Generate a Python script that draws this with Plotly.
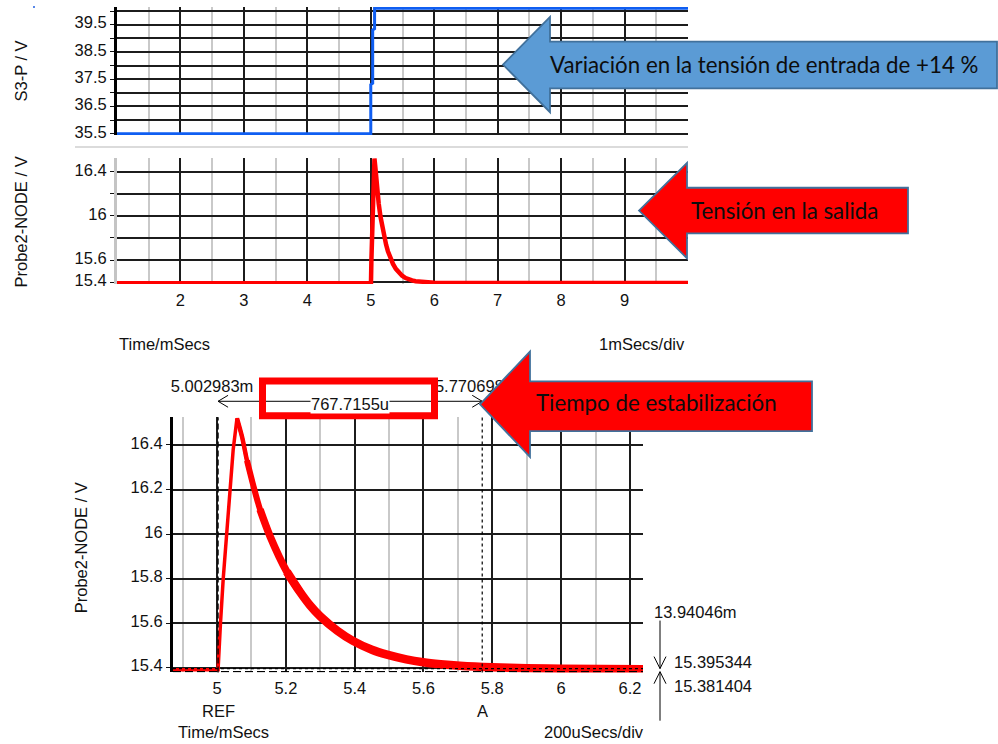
import plotly.graph_objects as go

W, H = 998, 744

# ---- data (time in ms, voltage in V) ----
# Input voltage S3-P: step at 5 ms
t_in = [1.0, 5.0, 5.0, 5.03, 5.03, 5.06, 5.06, 10.0]
v_in = [35.5, 35.5, 37.3, 37.35, 39.3, 39.35, 40.1, 40.1]

# Output voltage Probe2-NODE
t_out = [1.0, 4.995, 5.003, 5.010, 5.018, 5.032, 5.047, 5.058, 5.073, 5.087,
         5.105, 5.125, 5.154, 5.203, 5.241, 5.270, 5.300, 5.350, 5.395, 5.450,
         5.494, 5.550, 5.599, 5.650, 5.706, 5.800, 5.900, 6.000, 6.238, 10.0]
v_out = [15.39, 15.39, 15.39, 15.60, 15.80, 16.08, 16.38, 16.52, 16.435, 16.33,
         16.22, 16.11, 15.99, 15.83, 15.74, 15.68, 15.63, 15.565, 15.52, 15.48,
         15.458, 15.437, 15.424, 15.415, 15.408, 15.401, 15.397, 15.395, 15.392, 15.392]

# Cursors
cursor_names = ["REF", "A"]
cursor_t = [5.002983, 5.770698]
cursor_t_text = ["5.002983m", "5.770698m"]
delta_t_text = "767.7155u"
cursor_v = [15.395344, 15.381404]
cursor_v_text = ["15.395344", "15.381404"]
delta_v_text = "13.94046m"

# Ticks
top_y_ticks = [35.5, 36.0, 36.5, 37.0, 37.5, 38.0, 38.5, 39.0, 39.5, 40.0]
top_y_text = ["35.5", "", "36.5", "", "37.5", "", "38.5", "", "39.5", ""]
mid_y_ticks = [15.4, 15.6, 15.8, 16.0, 16.2, 16.4]
mid_y_text = ["15.4", "15.6", "", "16", "", "16.4"]
zoom_y_text = ["15.4", "15.6", "15.8", "16", "16.2", "16.4"]
wide_x_ticks = [2, 3, 4, 5, 6, 7, 8, 9]
wide_x_text = ["2", "3", "4", "5", "6", "7", "8", "9"]
wide_x_minor = [1.5, 2.5, 3.5, 4.5, 5.5, 6.5, 7.5, 8.5, 9.5]
zoom_x_ticks = [5.0, 5.2, 5.4, 5.6, 5.8, 6.0, 6.2]
zoom_x_text = ["5", "5.2", "5.4", "5.6", "5.8", "6", "6.2"]
zoom_x_minor = [4.9, 5.1, 5.3, 5.5, 5.7, 5.9, 6.1]


def px_x(p):
    return p / W


def px_y(p):
    return 1 - p / H


AX_FONT = dict(family="Liberation Sans, Arial, sans-serif", size=16.5, color="#111111")
CALLOUT_FONT = dict(family="Lato, sans-serif", size=22.3, color="#0d0d0d")
GRID = "#1c1c1c"
MINOR = "#c9c9c9"
RED = "#ff0000"
OUTLINE = "#41719c"

X_WIDE_DOM = [px_x(117), px_x(688)]
X_ZOOM_DOM = [px_x(173), px_x(643)]
X_ZOOM_RNG = [4.872, 6.238]
Y_ZOOM_DOM = [px_y(677), px_y(420)]
Y_ZOOM_RNG = [15.378, 16.525]


def zoom_y_to_paper(v):
    """Paper coordinate of a voltage on the zoomed panel's y axis."""
    f = (v - Y_ZOOM_RNG[0]) / (Y_ZOOM_RNG[1] - Y_ZOOM_RNG[0])
    return Y_ZOOM_DOM[0] + f * (Y_ZOOM_DOM[1] - Y_ZOOM_DOM[0])


fig = go.Figure()

# input step
fig.add_trace(go.Scatter(x=t_in, y=v_in, mode="lines", xaxis="x", yaxis="y",
                         line=dict(color="#0f5ef2", width=3), showlegend=False))
# output, full time span
fig.add_trace(go.Scatter(x=t_out, y=v_out, mode="lines", xaxis="x2", yaxis="y2",
                         line=dict(color=RED, width=4.5), showlegend=False))
# output, zoomed around the transient
fig.add_trace(go.Scatter(x=t_out, y=v_out, mode="lines", xaxis="x3", yaxis="y3",
                         line=dict(color=RED, width=3.5), showlegend=False))
# switching ripple thickens the trace progressively during the decay
ripple_segments = [(5.058, 5.105, 4.5), (5.087, 5.154, 6.0), (5.125, 5.241, 7.5), (5.203, 10.0, 8.5)]
for t0, t1, w in ripple_segments:
    idx = [i for i, t in enumerate(t_out) if t0 <= t <= t1]
    fig.add_trace(go.Scatter(x=[t_out[i] for i in idx], y=[v_out[i] for i in idx], mode="lines",
                             xaxis="x3", yaxis="y3",
                             line=dict(color=RED, width=w, shape="spline", smoothing=0.8),
                             showlegend=False))

# cursor time read-outs (sit under the callout shapes)
fig.add_trace(go.Scatter(x=cursor_t, y=[391, 391], mode="text", text=cursor_t_text,
                         textfont=AX_FONT, textposition="middle center", cliponaxis=False,
                         xaxis="x4", yaxis="y4", showlegend=False, hoverinfo="skip"))

common_x = dict(showgrid=True, gridcolor=GRID, gridwidth=1.5, zeroline=False, showline=False,
                ticks="", tickfont=AX_FONT, ticklabelstandoff=4)
common_y = dict(showgrid=True, gridcolor=GRID, gridwidth=1.5, zeroline=False, showline=True,
                linewidth=3, ticks="outside", ticklen=4, tickcolor="#111111", tickfont=AX_FONT,
                ticklabelshift=-2)

# read-out axis sits a few pixels left of the zoomed time axis
label_shift = 6 * (X_ZOOM_RNG[1] - X_ZOOM_RNG[0]) / 470

fig.update_layout(
    width=W, height=H, autosize=False,
    margin=dict(l=0, r=0, t=0, b=0),
    paper_bgcolor="white", plot_bgcolor="rgba(0,0,0,0)",
    xaxis=dict(common_x, domain=X_WIDE_DOM, range=[1, 10], anchor="y",
               tickmode="array", tickvals=wide_x_ticks, showticklabels=False,
               minor=dict(tickvals=wide_x_minor, showgrid=True, gridcolor=MINOR, gridwidth=1.5)),
    yaxis=dict(common_y, domain=[px_y(136), px_y(7)], range=[35.45, 40.15], anchor="x",
               tickmode="array", tickvals=top_y_ticks, ticktext=top_y_text, linecolor="#000000"),
    xaxis2=dict(common_x, domain=X_WIDE_DOM, range=[1, 10], anchor="y2",
                tickmode="array", tickvals=wide_x_ticks, ticktext=wide_x_text,
                minor=dict(tickvals=wide_x_minor, showgrid=True, gridcolor=MINOR, gridwidth=1.5)),
    yaxis2=dict(common_y, domain=[px_y(286), px_y(159)], range=[15.382, 16.526], anchor="x2",
                tickmode="array", tickvals=mid_y_ticks, ticktext=mid_y_text, linecolor="#c4c4c4"),
    xaxis3=dict(common_x, domain=X_ZOOM_DOM, range=X_ZOOM_RNG, anchor="y3",
                tickmode="array", tickvals=zoom_x_ticks, ticktext=zoom_x_text,
                minor=dict(tickvals=zoom_x_minor, showgrid=True, gridcolor=MINOR, gridwidth=1.5)),
    yaxis3=dict(common_y, domain=Y_ZOOM_DOM, range=Y_ZOOM_RNG, anchor="x3",
                tickmode="array", tickvals=mid_y_ticks, ticktext=zoom_y_text, linecolor="#000000"),
    xaxis4=dict(domain=X_ZOOM_DOM, range=[r + label_shift for r in X_ZOOM_RNG],
                visible=False, anchor="y4"),
    yaxis4=dict(domain=[0, 1], range=[H, 0], visible=False, anchor="x4"),
)

shapes = []
# separator between the two upper panels
shapes.append(dict(type="line", xref="paper", yref="paper", x0=px_x(75), x1=px_x(688),
                   y0=px_y(148), y1=px_y(148), line=dict(color="#cfcfcf", width=1.5)))
# small marker dot in the corner
shapes.append(dict(type="circle", xref="paper", yref="paper", x0=px_x(33), x1=px_x(35),
                   y0=px_y(8), y1=px_y(6), fillcolor="#1f5fe0", line=dict(width=0)))

# cursors on the zoomed panel
shapes.append(dict(type="line", xref="x3", yref="y3 domain", x0=cursor_t[0], x1=cursor_t[0],
                   y0=0, y1=1, line=dict(color="#000000", width=1.3, dash="6px,3px")))
shapes.append(dict(type="line", xref="x3", yref="y3 domain", x0=cursor_t[1], x1=cursor_t[1],
                   y0=0, y1=1, line=dict(color="#000000", width=1.2, dash="3px,3px")))
shapes.append(dict(type="line", xref="x3 domain", yref="y3", x0=0, x1=1, y0=cursor_v[0],
                   y1=cursor_v[0], line=dict(color="#000000", width=1.2, dash="3px,3px")))
shapes.append(dict(type="line", xref="x3 domain", yref="y3", x0=0, x1=1, y0=cursor_v[1],
                   y1=cursor_v[1], line=dict(color="#000000", width=1.2, dash="8px,4px")))

# time difference dimension line between cursors
dim_y = px_y(404)
shapes.append(dict(type="line", xref="x3", yref="paper", x0=cursor_t[0], x1=cursor_t[1],
                   y0=dim_y, y1=dim_y, line=dict(color="#000000", width=1)))
shapes.append(dict(type="path", xref="x3", yref="paper", xsizemode="pixel", xanchor=cursor_t[0],
                   path=f"M 10,{dim_y + 6 / H} L 0,{dim_y} L 10,{dim_y - 6 / H}",
                   line=dict(color="#000000", width=1)))
shapes.append(dict(type="path", xref="x3", yref="paper", xsizemode="pixel", xanchor=cursor_t[1],
                   path=f"M -10,{dim_y + 6 / H} L 0,{dim_y} L -10,{dim_y - 6 / H}",
                   line=dict(color="#000000", width=1)))

# voltage difference arrows on the right (extend below the plot area)
shapes.append(dict(type="path", xref="paper", yref="paper", xsizemode="pixel", ysizemode="pixel",
                   xanchor=px_x(660), yanchor=zoom_y_to_paper(cursor_v[0]),
                   path="M 0,48 L 0,0 M -6,12 L 0,0 L 6,12", line=dict(color="#000000", width=1)))
shapes.append(dict(type="path", xref="paper", yref="paper", xsizemode="pixel", ysizemode="pixel",
                   xanchor=px_x(660), yanchor=zoom_y_to_paper(cursor_v[1]),
                   path="M 0,-49 L 0,0 M -6,-12 L 0,0 L 6,-12", line=dict(color="#000000", width=1)))

# red frame around the time difference
shapes.append(dict(type="rect", xref="paper", yref="paper", x0=px_x(262.5), x1=px_x(434.5),
                   y0=px_y(418.5), y1=px_y(383.5), line=dict(color=RED, width=7)))


def arrow_path(tip_x, tip_y, head_x, head_top, head_bot, body_top, body_bot, right):
    pts = [(tip_x, tip_y), (head_x, head_top), (head_x, body_top), (right, body_top),
           (right, body_bot), (head_x, body_bot), (head_x, head_bot)]
    return "M " + " L ".join(f"{px_x(x):.5f},{px_y(y):.5f}" for x, y in pts) + " Z"


shapes.append(dict(type="path", xref="paper", yref="paper",
                   path=arrow_path(503, 65, 550, 17, 113, 42, 89, 997),
                   fillcolor="#5b9bd5", line=dict(color=OUTLINE, width=1.8)))
shapes.append(dict(type="path", xref="paper", yref="paper",
                   path=arrow_path(639, 212, 687, 164, 260, 189, 235, 908),
                   fillcolor=RED, line=dict(color=OUTLINE, width=1.8)))
shapes.append(dict(type="path", xref="paper", yref="paper",
                   path=arrow_path(480, 407, 530, 354, 460, 384, 434, 812),
                   fillcolor=RED, line=dict(color=OUTLINE, width=1.8)))

fig.update_layout(shapes=shapes)

ann = []
TEXT_DY = 4  # glyphs sit above the box centre; nudge labels down


def label(text, x, py, xref="paper", xanchor="center", angle=0, font=AX_FONT, dy=TEXT_DY, **kw):
    ann.append(dict(text=text, x=x, y=px_y(py + dy), xref=xref, yref="paper", xanchor=xanchor,
                    yanchor="middle", showarrow=False, textangle=angle, font=font, **kw))


# axis titles
label("S3-P / V", px_x(21), 72, angle=-90, dy=0)
label("Probe2-NODE / V", px_x(21), 224, angle=-90, dy=0)
label("Probe2-NODE / V", px_x(81), 552, angle=-90, dy=0)
label("Time/mSecs", px_x(117), 342, xanchor="left")
label("1mSecs/div", px_x(597), 342, xanchor="left")
label("Time/mSecs", px_x(223), 733)
label("200uSecs/div", px_x(542), 733, xanchor="left")

# cursor names under the zoomed axis
for name, t in zip(cursor_names, cursor_t):
    label(name, t, 712, xref="x3")

# time difference value
label(delta_t_text, (cursor_t[0] + cursor_t[1]) / 2, 405, xref="x3",
      bgcolor="white", borderpad=0, dy=2)

# voltage read-outs
label(delta_v_text, px_x(652), 612, xanchor="left")
label(cursor_v_text[0], px_x(672), 662, xanchor="left")
label(cursor_v_text[1], px_x(672), 687, xanchor="left")

# callout texts
label("Variación en la tensión de entrada de +14 %", px_x(764), 64, font=CALLOUT_FONT, dy=1)
label("Tensión en la salida", px_x(784), 211, font=CALLOUT_FONT, dy=1)
label("Tiempo de estabilización", px_x(656), 404, font=CALLOUT_FONT, dy=1)

fig.update_layout(annotations=ann)

fig.write_html("out.html")
